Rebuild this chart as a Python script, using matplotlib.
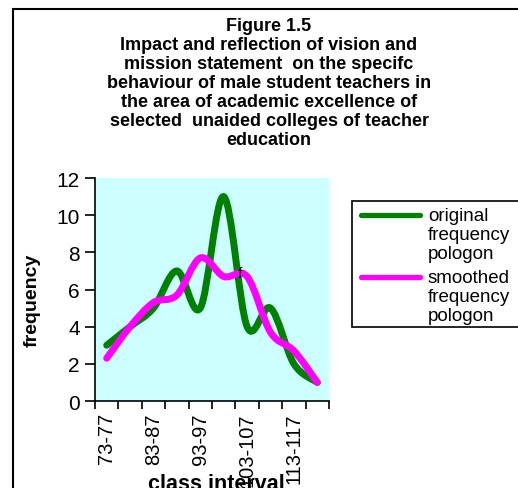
import matplotlib.pyplot as plt
import numpy as np
from matplotlib.path import Path
from matplotlib.patches import PathPatch, Rectangle
from matplotlib.lines import Line2D

plt.rcParams['font.family'] = ['Liberation Sans', 'DejaVu Sans']

# Data
class_intervals = ['73-77', '78-82', '83-87', '88-92', '93-97',
                   '98-102', '103-107', '108-112', '113-117', '118-122']
original = [3, 4, 5, 7, 5, 11, 4, 5, 2, 1]
smoothed = [2.3, 4.0, 5.3, 5.7, 7.7, 6.7, 6.7, 3.7, 2.7, 1.0]

TITLE = ("Figure 1.5\nImpact and reflection of vision and\n"
         "mission statement  on the specifc\n"
         "behaviour of male student teachers in\n"
         "the area of academic excellence of\n"
         "selected  unaided colleges of teacher\n"
         "education")

GREEN = '#008000'
MAGENTA = '#FF00FF'


def smooth_path(xs, ys):
    """Excel-like smoothed line: cubic bezier through each point."""
    pts = np.column_stack([xs, ys]).astype(float)
    padded = np.vstack([pts[0], pts, pts[-1]])
    verts = [pts[0]]
    codes = [Path.MOVETO]
    for i in range(len(pts) - 1):
        p0, p1, p2, p3 = padded[i], padded[i + 1], padded[i + 2], padded[i + 3]
        c1 = p1 + (p2 - p0) / 6.0
        c2 = p2 - (p3 - p1) / 6.0
        verts += [c1, c2, p2]
        codes += [Path.CURVE4] * 3
    return Path(verts, codes)


W, H = 518, 489
fig = plt.figure(figsize=(W / 100, H / 100), dpi=100)
fig.patch.set_facecolor('white')

# chart-area border (only top/left visible)
fig.add_artist(Rectangle((13 / W, -0.1), 1.2, 1 - 10 / H + 0.1,
                         transform=fig.transFigure, fill=False,
                         edgecolor='black', linewidth=1.5))

ax = fig.add_axes([95 / W, 1 - 402 / H, 234 / W, 223 / H])
ax.set_facecolor('#CCFFFF')

x = np.arange(len(class_intervals))
for series, col in [(original, GREEN), (smoothed, MAGENTA)]:
    ax.add_patch(PathPatch(smooth_path(x, series), fill=False,
                           edgecolor=col, linewidth=5, capstyle='round',
                           joinstyle='round'))

ax.text(5.7, 6.9, 'f', fontsize=11, ha='center', va='center')

ax.set_xlim(-0.5, len(class_intervals) - 0.5)
ax.set_ylim(0, 12)
ax.set_yticks(range(0, 13, 2))

ax.set_xticks(np.arange(-0.5, len(class_intervals), 1))
ax.set_xticklabels([])
ax.set_xticks(x[::2], minor=True)
ax.set_xticklabels(class_intervals[::2], minor=True, rotation=90,
                   fontsize=14.5, va='top')
ax.tick_params(axis='x', which='major', direction='out', length=6,
               width=1.2)
ax.tick_params(axis='x', which='minor', length=0, pad=8)
ax.tick_params(axis='y', direction='out', length=7, width=1.2,
               labelsize=15, pad=4)

for side in ['top', 'right']:
    ax.spines[side].set_visible(False)
for side in ['left', 'bottom']:
    ax.spines[side].set_linewidth(1.2)

fig.text(32 / W, 1 - 300 / H, 'frequency', rotation=90, fontsize=14,
         fontweight='bold', ha='center', va='center')
fig.text(216 / W, 1 - 485 / H, 'class interval', fontsize=15.5,
         fontweight='bold', ha='center', va='center')

fig.text(269 / W, 1 - 18 / H, TITLE, fontsize=13, fontweight='bold',
         ha='center', va='top', linespacing=1.15)

# Legend
fig.add_artist(Rectangle((352 / W, 1 - 328 / H), 0.5, 126 / H,
                         transform=fig.transFigure, facecolor='white',
                         edgecolor='black', linewidth=1.2))
legend_items = [('original\nfrequency\npologon', GREEN, 216),
                ('smoothed\nfrequency\npologon', MAGENTA, 278)]
for label, col, ly in legend_items:
    fig.add_artist(Line2D([361 / W, 420 / W], [1 - ly / H, 1 - ly / H],
                          transform=fig.transFigure, color=col,
                          linewidth=3.8, solid_capstyle='round'))
    fig.text(428 / W, 1 - (ly - 8) / H, label, fontsize=13.5,
             ha='left', va='top', linespacing=1.16)

fig.savefig('out.png', dpi=100)
